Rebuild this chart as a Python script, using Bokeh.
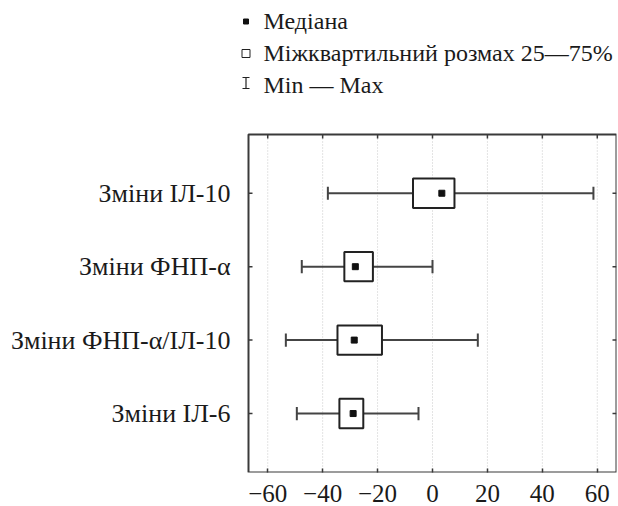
from bokeh.plotting import figure
from bokeh.models import Range1d, FixedTicker, ColumnDataSource
from bokeh.core.properties import value
from bokeh.embed import file_html
from bokeh.resources import INLINE

# ---- data (top-to-bottom order as displayed) ----
categories = ["Зміни ІЛ-10", "Зміни ФНП-α", "Зміни ФНП-α/ІЛ-10", "Зміни ІЛ-6"]
mins   = [-38.1, -47.6, -53.4, -49.4]
q1     = [-7.1, -32.1, -34.6, -33.9]
median = [3.4, -28.1, -28.5, -28.9]
q3     = [8.0, -21.7, -18.4, -25.2]
maxs   = [58.6, 0.0, 16.5, -5.1]
x_ticks = [-60, -40, -20, 0, 20, 40, 60]
x_tick_labels = ["−60", "−40", "−20", "0", "20", "40", "60"]
legend_labels = ["Медіана", "Міжквартильний розмах 25—75%", "Min — Max"]

# ---- layout / style ----
FONT = "Liberation Serif"
DARK = "#3a3a3a"
TXT = "#1a1a1a"
W, H = 618, 506
X_LIM = (-67, 67)          # value limits of the plot box
Y_LIM = (0.197, 4.8)       # category-position limits of the plot box
BOX_PX = (248, 616, 134, 472)   # plot box in page pixels: left, right, top, bottom
FRAME_LEFT_PX, FRAME_TOP_PX = 240, 0

kx = (BOX_PX[1] - BOX_PX[0]) / (X_LIM[1] - X_LIM[0])
ky = (BOX_PX[3] - BOX_PX[2]) / (Y_LIM[1] - Y_LIM[0])
x_start = X_LIM[0] - (BOX_PX[0] - FRAME_LEFT_PX) / kx
y_end = Y_LIM[1] + (BOX_PX[2] - FRAME_TOP_PX) / ky

def dx(px):
    return X_LIM[0] + (px - BOX_PX[0]) / kx

def dy(py):
    return Y_LIM[1] + (BOX_PX[2] - py) / ky

n = len(categories)
ypos = [n - i for i in range(n)]

src = ColumnDataSource(dict(
    y=ypos, lo=mins, q1=q1, med=median, q3=q3, hi=maxs,
    top=[y + 0.2 for y in ypos], bot=[y - 0.2 for y in ypos],
    ctop=[y + 0.09 for y in ypos], cbot=[y - 0.09 for y in ypos],
))

p = figure(width=W, height=H, output_backend="svg", toolbar_location=None,
           x_range=Range1d(x_start, X_LIM[1]), y_range=Range1d(Y_LIM[0], y_end),
           min_border_left=FRAME_LEFT_PX, min_border_right=W - BOX_PX[1],
           min_border_top=FRAME_TOP_PX, min_border_bottom=H - BOX_PX[3])
p.outline_line_color = None
p.grid.visible = False

# dotted vertical grid inside the box
p.segment(x0=x_ticks, y0=[Y_LIM[0]] * len(x_ticks), x1=x_ticks, y1=[Y_LIM[1]] * len(x_ticks),
          line_color="#c8c8c8", line_dash="1 2", line_width=1)

# whiskers
WH = "#444444"
p.segment(x0="lo", y0="y", x1="hi", y1="y", source=src, line_color=WH, line_width=2)
p.segment(x0="lo", y0="cbot", x1="lo", y1="ctop", source=src, line_color=WH, line_width=2)
p.segment(x0="hi", y0="cbot", x1="hi", y1="ctop", source=src, line_color=WH, line_width=2)
# boxes
p.quad(left="q1", right="q3", bottom="bot", top="top", source=src,
       fill_color="white", line_color="#222222", line_width=2)
# medians
p.scatter(x="med", y="y", source=src, marker="square", size=6,
          fill_color="#111111", line_color="#111111")

# plot box outline
p.quad(left=[X_LIM[0]], right=[X_LIM[1]], bottom=[Y_LIM[0]], top=[Y_LIM[1]],
       fill_color=None, line_color=DARK, line_width=2)

# inward tick marks on top, left and right sides
tl = 4
p.segment(x0=x_ticks, y0=[Y_LIM[1]] * len(x_ticks), x1=x_ticks,
          y1=[Y_LIM[1] - tl / ky] * len(x_ticks), line_color=DARK, line_width=1.5)
p.segment(x0=[X_LIM[0]] * n, y0=ypos, x1=[X_LIM[0] + tl / kx] * n, y1=ypos,
          line_color=DARK, line_width=1.5)
p.segment(x0=[X_LIM[1]] * n, y0=ypos, x1=[X_LIM[1] - tl / kx] * n, y1=ypos,
          line_color=DARK, line_width=1.5)

# bottom axis (ticks inward, labels)
xa = p.xaxis[0]
xa.ticker = FixedTicker(ticks=x_ticks)
xa.major_label_overrides = {t: l for t, l in zip(x_ticks, x_tick_labels)}
xa.major_label_text_font = FONT
xa.major_label_text_font_size = "25px"
xa.major_label_text_color = TXT
xa.major_label_standoff = 12
xa.major_tick_in = tl
xa.major_tick_out = 0
xa.major_tick_line_color = DARK
xa.major_tick_line_width = 1.5
xa.minor_tick_line_color = None
xa.axis_line_color = None

# left axis: only the category labels
ya = p.yaxis[0]
ya.ticker = FixedTicker(ticks=ypos)
ya.major_label_overrides = {y: c for y, c in zip(ypos, categories)}
ya.major_label_text_font = FONT
ya.major_label_text_font_size = "26px"
ya.major_label_text_color = TXT
ya.major_label_standoff = 10
ya.major_tick_in = 0
ya.major_tick_out = 0
ya.major_tick_line_color = None
ya.minor_tick_line_color = None
ya.axis_line_color = None

# ---- legend above the plot box ----
row_base = [20, 52, 84]
sym_x = dx(245.5)
p.scatter(x=[sym_x], y=[dy(21)], marker="square", size=5,
          fill_color="#111111", line_color="#111111")
p.scatter(x=[sym_x], y=[dy(53)], marker="square", size=8,
          fill_color="white", line_color="#222222", line_width=1)
ib_top, ib_bot, ib_half = 77, 88, 3.5
p.segment(x0=[sym_x, dx(245.5 - ib_half), dx(245.5 - ib_half)],
          y0=[dy(ib_top), dy(ib_top), dy(ib_bot)],
          x1=[sym_x, dx(245.5 + ib_half), dx(245.5 + ib_half)],
          y1=[dy(ib_bot), dy(ib_top), dy(ib_bot)],
          line_color="#222222", line_width=1.2)
p.text(x=[dx(263)] * 3, y=[dy(b) for b in row_base], text=legend_labels,
       text_font=value(FONT), text_font_size="24px", text_align="left",
       text_baseline="alphabetic", text_color=TXT)

open("out.html", "w").write(file_html(p, INLINE))
